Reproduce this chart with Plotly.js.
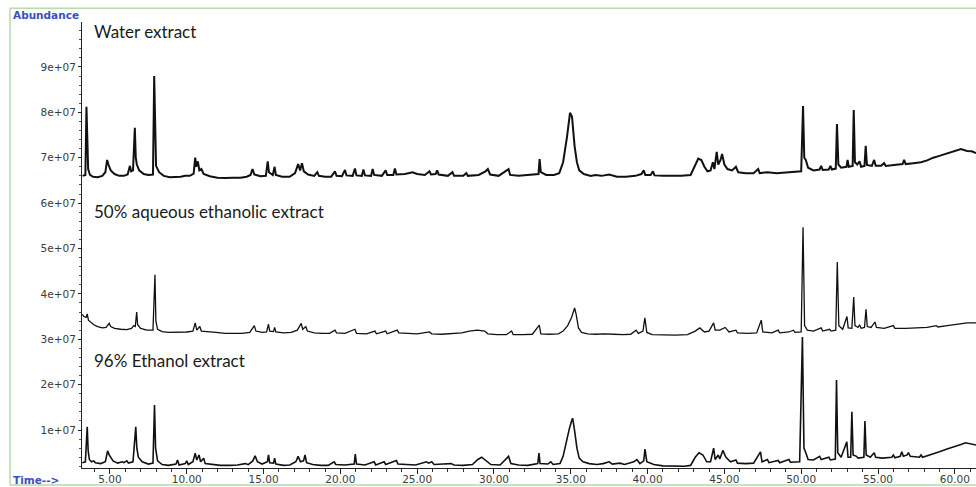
<!DOCTYPE html>
<html>
<head>
<meta charset="utf-8">
<script src="https://cdn.plot.ly/plotly-3.0.1.min.js"></script>
<style>
html,body{margin:0;padding:0;background:#fff;}
#chart{width:976px;height:487px;}
</style>
</head>
<body>
<div id="chart"></div>
<script>
// Retention time (min) and abundance (in units of 1e7 counts)
const UNIT = 1e7;

const waterTime = [3.22,3.40,3.47,3.52,3.58,3.70,3.90,4.20,4.50,4.70,4.82,4.90,5.05,5.30,5.60,5.90,6.15,6.30,6.38,6.50,6.62,6.68,6.75,6.90,7.20,7.50,7.80,7.88,7.94,8.00,8.20,8.50,8.90,9.30,9.60,9.90,10.20,10.45,10.55,10.62,10.72,10.82,10.95,11.10,11.50,12.00,12.50,13.00,13.50,13.90,14.15,14.28,14.40,14.80,15.15,15.27,15.35,15.60,15.72,15.80,16.20,16.70,17.05,17.25,17.38,17.50,17.62,17.90,18.30,18.50,18.60,19.00,19.40,19.65,19.75,20.10,20.30,20.40,20.80,20.95,21.05,21.40,21.50,21.60,22.00,22.10,22.20,22.70,22.95,23.05,23.45,23.55,23.65,24.20,24.70,25.00,25.50,25.80,25.90,26.20,26.30,26.40,27.00,27.30,27.40,28.00,28.20,28.30,29.00,29.45,29.60,29.75,30.30,30.95,31.05,31.60,32.20,32.90,32.97,33.05,33.40,33.90,34.25,34.50,34.75,34.95,35.08,35.25,35.40,35.55,35.85,36.30,36.60,37.00,37.50,38.00,38.60,39.20,39.60,39.75,39.85,40.20,40.35,40.45,41.00,41.60,42.20,42.80,43.05,43.30,43.50,43.70,43.90,44.10,44.25,44.35,44.50,44.60,44.75,44.85,45.00,45.20,45.50,45.75,45.90,46.40,46.90,47.20,47.30,47.80,48.40,49.00,49.50,50.00,50.12,50.20,50.30,50.45,50.80,51.20,51.30,51.40,51.80,51.90,52.00,52.25,52.33,52.42,52.60,52.95,53.02,53.10,53.35,53.42,53.50,53.65,53.80,53.90,54.12,54.20,54.28,54.60,54.75,54.85,55.20,55.40,55.50,56.00,56.60,56.70,56.80,57.30,57.80,58.20,58.60,59.00,59.40,59.80,60.10,60.40,60.80,61.10,61.38];
const waterAbund = [6.60,6.62,8.12,7.20,6.75,6.62,6.58,6.57,6.60,6.68,6.95,6.85,6.72,6.64,6.60,6.60,6.63,6.82,6.70,6.72,7.66,7.00,6.85,6.72,6.64,6.62,6.63,8.80,7.30,6.82,6.68,6.60,6.57,6.57,6.58,6.60,6.60,6.65,7.00,6.80,6.92,6.72,6.75,6.64,6.59,6.56,6.55,6.56,6.56,6.58,6.62,6.75,6.63,6.59,6.60,6.92,6.68,6.62,6.80,6.62,6.58,6.58,6.66,6.86,6.72,6.88,6.70,6.63,6.60,6.68,6.60,6.58,6.58,6.70,6.60,6.59,6.73,6.61,6.60,6.76,6.61,6.60,6.74,6.61,6.60,6.75,6.62,6.60,6.72,6.62,6.62,6.76,6.63,6.64,6.68,6.64,6.62,6.70,6.63,6.64,6.72,6.63,6.60,6.68,6.60,6.60,6.66,6.60,6.62,6.70,6.75,6.63,6.60,6.75,6.62,6.60,6.62,6.64,6.97,6.68,6.62,6.62,6.66,6.90,7.45,7.99,7.90,7.25,6.90,6.72,6.64,6.60,6.62,6.60,6.63,6.58,6.58,6.60,6.64,6.72,6.62,6.62,6.70,6.61,6.60,6.60,6.60,6.62,6.80,6.98,6.95,6.80,6.70,6.72,6.90,6.75,7.13,6.85,6.95,7.08,6.85,6.75,6.72,6.80,6.68,6.66,6.66,6.75,6.66,6.68,6.66,6.67,6.68,6.70,8.14,7.00,6.95,6.78,6.72,6.74,6.82,6.73,6.74,6.82,6.74,6.76,7.74,6.85,6.78,6.80,6.95,6.80,6.82,8.05,6.90,6.85,6.92,6.80,6.82,7.26,6.84,6.82,6.95,6.82,6.82,6.88,6.82,6.84,6.86,6.95,6.86,6.88,6.90,6.94,7.00,7.04,7.08,7.12,7.15,7.19,7.15,7.14,7.10];

const aqTime = [3.20,3.30,3.45,3.52,3.60,3.75,3.95,4.20,4.50,4.75,4.95,5.05,5.30,5.70,6.10,6.40,6.55,6.65,6.74,6.80,7.00,7.40,7.80,7.93,7.99,8.10,8.40,8.80,9.20,9.60,10.00,10.40,10.55,10.65,10.85,10.95,11.40,11.90,12.50,13.00,13.60,14.10,14.40,14.50,14.90,15.20,15.32,15.40,15.65,15.72,15.80,16.30,16.80,17.20,17.45,17.55,17.75,17.85,18.30,18.80,19.30,19.65,19.75,20.30,20.95,21.05,21.70,22.25,22.35,22.95,23.05,23.70,23.80,24.40,25.00,25.80,25.95,26.60,27.30,27.90,28.40,28.90,29.40,29.60,30.20,30.80,31.15,31.25,31.90,32.50,32.95,33.05,33.60,34.20,34.50,34.80,35.05,35.25,35.35,35.50,35.70,36.10,36.60,37.20,37.80,38.40,38.90,39.25,39.40,39.70,39.82,39.95,40.30,41.00,41.80,42.60,43.10,43.40,43.70,44.00,44.30,44.40,44.70,45.05,45.30,45.75,45.85,46.50,47.10,47.40,47.50,48.10,48.50,48.60,49.20,49.50,49.60,50.00,50.12,50.22,50.40,50.80,51.30,51.40,51.85,51.95,52.25,52.35,52.45,52.70,52.98,53.06,53.30,53.42,53.50,53.70,53.80,53.90,54.12,54.22,54.30,54.55,54.80,54.90,55.40,56.00,56.10,56.80,57.50,58.20,58.80,58.90,59.50,60.20,60.80,61.38];
const aqAbund = [3.55,3.50,3.48,3.56,3.42,3.38,3.32,3.28,3.25,3.26,3.35,3.28,3.24,3.22,3.21,3.24,3.30,3.28,3.60,3.32,3.24,3.20,3.20,4.42,3.40,3.22,3.17,3.15,3.15,3.16,3.16,3.18,3.36,3.20,3.28,3.18,3.16,3.15,3.13,3.13,3.13,3.15,3.30,3.18,3.15,3.16,3.33,3.18,3.17,3.26,3.16,3.14,3.15,3.20,3.35,3.22,3.28,3.18,3.14,3.13,3.13,3.20,3.14,3.13,3.22,3.13,3.12,3.18,3.12,3.18,3.12,3.20,3.14,3.13,3.12,3.16,3.12,3.11,3.12,3.14,3.18,3.20,3.18,3.12,3.10,3.10,3.18,3.10,3.10,3.11,3.31,3.12,3.11,3.12,3.18,3.30,3.48,3.69,3.55,3.25,3.15,3.12,3.11,3.12,3.11,3.10,3.11,3.20,3.13,3.18,3.47,3.15,3.10,3.09,3.09,3.10,3.18,3.25,3.16,3.18,3.36,3.20,3.20,3.26,3.16,3.20,3.14,3.13,3.14,3.42,3.16,3.14,3.20,3.14,3.16,3.20,3.15,3.16,5.47,3.30,3.20,3.18,3.25,3.18,3.22,3.18,3.20,4.70,3.30,3.22,3.50,3.25,3.24,3.93,3.30,3.26,3.32,3.24,3.26,3.66,3.28,3.26,3.38,3.26,3.24,3.30,3.24,3.24,3.25,3.26,3.30,3.27,3.30,3.33,3.36,3.36];

const ethTime = [3.20,3.40,3.52,3.58,3.66,3.80,3.95,4.05,4.40,4.70,4.85,4.95,5.20,5.50,5.80,5.90,6.10,6.20,6.50,6.68,6.75,6.85,7.10,7.50,7.80,7.90,7.97,8.10,8.40,8.80,9.30,9.40,9.50,9.90,10.00,10.10,10.40,10.55,10.65,10.80,10.90,11.10,11.20,11.60,12.20,12.80,13.30,13.80,14.00,14.30,14.45,14.60,14.90,15.25,15.32,15.40,15.65,15.72,15.80,16.30,16.70,17.10,17.25,17.40,17.60,17.70,17.80,18.20,18.70,19.20,19.60,19.70,20.30,20.90,20.97,21.05,21.60,22.20,22.30,22.85,22.95,23.65,23.75,24.30,24.90,25.60,25.75,25.95,26.10,26.70,27.20,27.40,28.00,28.60,28.95,29.20,29.50,29.80,30.40,30.95,31.10,31.60,32.20,32.85,32.93,33.00,33.50,33.70,33.85,34.30,34.50,34.70,34.90,35.05,35.12,35.25,35.40,35.55,35.80,36.20,36.70,37.10,37.50,37.70,38.20,38.50,39.10,39.30,39.50,39.75,39.83,39.95,40.40,41.00,41.70,42.40,42.80,43.10,43.35,43.60,43.85,44.10,44.30,44.40,44.60,44.70,44.90,45.10,45.40,45.75,45.85,46.40,46.90,47.35,47.45,47.80,47.90,48.50,48.60,49.20,49.30,49.90,50.08,50.18,50.30,50.45,50.80,51.20,51.30,51.80,51.90,52.22,52.30,52.38,52.60,52.97,53.05,53.22,53.30,53.38,53.60,53.70,54.08,54.15,54.23,54.50,54.75,54.85,55.30,55.90,56.00,56.10,56.45,56.55,56.65,56.90,56.98,57.10,57.70,57.80,57.90,58.50,59.00,59.50,60.00,60.40,60.70,61.00,61.38];
const ethAbund = [0.28,0.30,1.07,0.55,0.35,0.30,0.32,0.28,0.26,0.30,0.54,0.45,0.32,0.27,0.30,0.28,0.32,0.27,0.30,1.07,0.60,0.40,0.30,0.25,0.27,1.55,0.60,0.32,0.24,0.22,0.25,0.34,0.23,0.26,0.32,0.24,0.30,0.49,0.34,0.45,0.30,0.38,0.26,0.24,0.22,0.22,0.23,0.26,0.24,0.32,0.43,0.30,0.25,0.30,0.45,0.28,0.27,0.38,0.25,0.22,0.23,0.30,0.42,0.30,0.32,0.45,0.28,0.24,0.22,0.22,0.30,0.24,0.23,0.25,0.47,0.25,0.23,0.30,0.23,0.30,0.24,0.33,0.25,0.24,0.23,0.30,0.27,0.30,0.24,0.25,0.26,0.23,0.22,0.24,0.35,0.40,0.33,0.24,0.23,0.42,0.26,0.23,0.22,0.26,0.49,0.26,0.25,0.30,0.24,0.26,0.42,0.75,1.02,1.20,1.26,0.98,0.60,0.38,0.30,0.26,0.24,0.26,0.30,0.25,0.27,0.24,0.30,0.35,0.26,0.32,0.58,0.30,0.24,0.21,0.20,0.20,0.22,0.40,0.50,0.45,0.30,0.30,0.60,0.35,0.45,0.36,0.55,0.40,0.30,0.34,0.27,0.26,0.27,0.52,0.30,0.35,0.28,0.33,0.28,0.35,0.29,0.30,3.05,0.60,0.50,0.35,0.34,0.42,0.35,0.40,0.34,0.36,2.10,0.50,0.40,0.74,0.40,0.40,1.40,0.45,0.42,0.38,0.40,1.20,0.45,0.40,0.50,0.40,0.38,0.40,0.45,0.39,0.42,0.52,0.42,0.45,0.50,0.42,0.40,0.45,0.40,0.46,0.52,0.58,0.63,0.68,0.72,0.70,0.67];

const yTickVals = [1e7,2e7,3e7,4e7,5e7,6e7,7e7,8e7,9e7];
const yTickText = ['1e+07','2e+07','3e+07','4e+07','5e+07','6e+07','7e+07','8e+07','9e+07'];
const seriesLabels = ['Water extract','50% aqueous ethanolic extract','96% Ethanol extract'];

const scale = a => a.map(v => v * UNIT);

const lineTrace = (x, y, w) => ({
  x: x, y: scale(y), type: 'scatter', mode: 'lines',
  line: {color: '#111', width: w}, hoverinfo: 'skip', showlegend: false
});

const data = [
  lineTrace(waterTime, waterAbund, 2.0),
  lineTrace(aqTime, aqAbund, 1.3),
  lineTrace(ethTime, ethAbund, 1.6)
];

const tickFont = {family: 'DejaVu Sans', size: 10.5, color: '#3c3c3c'};
const labelFont = {family: 'Lato', size: 17, color: '#1a1a1a'};
const blueFont = {family: 'DejaVu Sans', size: 10.5, color: '#3b4fc0'};

const layout = {
  width: 976, height: 487,
  margin: {l: 82, r: 0, t: 22, b: 19},
  paper_bgcolor: '#fff', plot_bgcolor: '#fff',
  showlegend: false,
  xaxis: {
    range: [3.18, 61.38], showgrid: false, zeroline: false,
    showline: true, linecolor: '#222', linewidth: 1,
    ticks: 'outside', ticklen: 5, tickcolor: '#222',
    tick0: 5, dtick: 5, tickformat: '.2f', tickfont: tickFont,
    ticklabelstandoff: -4,
    minor: {dtick: 1, ticks: 'outside', ticklen: 3, tickcolor: '#333'}
  },
  yaxis: {
    range: [0.163e7, 9.99e7], showgrid: false, zeroline: false,
    showline: true, linecolor: '#222', linewidth: 1,
    ticks: 'outside', ticklen: 3, tickcolor: '#222',
    tickvals: yTickVals, ticktext: yTickText, tickfont: tickFont,
    minor: {dtick: 2e6, tick0: 0, ticks: 'outside', ticklen: 2, tickcolor: '#555'}
  },
  annotations: [
    {text: seriesLabels[0], xref: 'paper', yref: 'paper', x: 0.0112, y: 0.978, xanchor: 'left', yanchor: 'middle', showarrow: false, font: labelFont},
    {text: seriesLabels[1], xref: 'paper', yref: 'paper', x: 0.0112, y: 0.576, xanchor: 'left', yanchor: 'middle', showarrow: false, font: labelFont},
    {text: seriesLabels[2], xref: 'paper', yref: 'paper', x: 0.0112, y: 0.242, xanchor: 'left', yanchor: 'middle', showarrow: false, font: labelFont},
    {text: '<b>Abundance</b>', xref: 'paper', yref: 'paper', x: -0.0795, y: 1.0157, xanchor: 'left', yanchor: 'middle', showarrow: false, font: blueFont},
    {text: '<b>Time--></b>', xref: 'paper', yref: 'paper', x: -0.0795, y: -0.0269, xanchor: 'left', yanchor: 'middle', showarrow: false, font: blueFont}
  ],
  shapes: [
    {type: 'line', xref: 'paper', yref: 'paper', x0: -0.0805, x1: 1.0, y0: 1.031, y1: 1.031, line: {color: '#b5dbae', width: 1.5}},
    {type: 'line', xref: 'paper', yref: 'paper', x0: -0.0805, x1: -0.0805, y0: -0.038, y1: 1.031, line: {color: '#b5dbae', width: 1.5}},
    {type: 'line', xref: 'paper', yref: 'paper', x0: -0.0805, x1: 1.0, y0: -0.038, y1: -0.038, line: {color: '#b5dbae', width: 1.5}}
  ]
};

Plotly.newPlot('chart', data, layout, {displayModeBar: false, staticPlot: true});
</script>
</body>
</html>
